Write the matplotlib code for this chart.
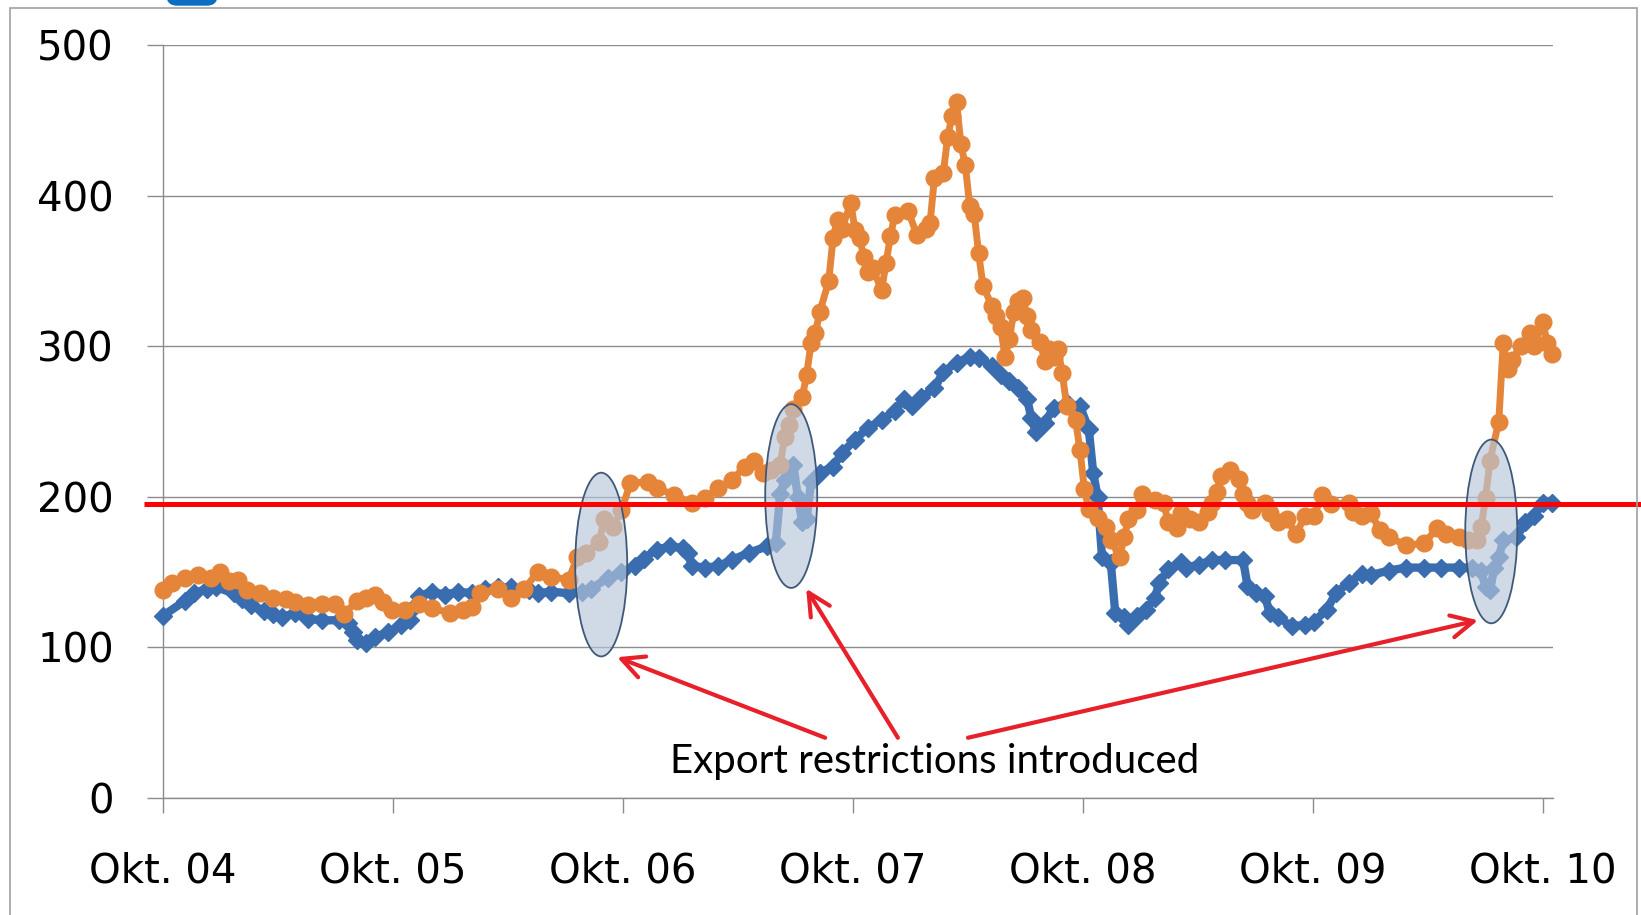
import matplotlib
matplotlib.use('Agg')
import matplotlib.pyplot as plt
from matplotlib.patches import Ellipse, Rectangle, FancyBboxPatch
from matplotlib.transforms import IdentityTransform
import pandas as pd

START = pd.Timestamp('2004-10-01')

# weeks after 1 Oct 2004 and price index, blue series
blue_week = [0, 5, 7, 10, 12, 16, 18, 20, 23, 25, 27, 30, 33, 36, 40, 42, 43, 44, 46, 48,
             51, 54, 56, 57, 58, 61, 64, 67, 70, 73, 76, 79, 83, 85, 88, 92, 95, 97, 101, 104,
             107, 109, 112, 115, 118, 119, 120, 123, 126, 129, 133, 137, 139, 140, 141, 143, 144, 145, 146, 147,
             149, 152, 154, 157, 160, 163, 166, 168, 170, 172, 175, 177, 180, 183, 185, 188, 190, 192, 194, 196,
             197, 198, 200, 202, 205, 208, 210, 211, 212, 213, 215, 216, 218, 219, 221, 223, 225, 226, 228, 231,
             232, 235, 238, 241, 245, 246, 248, 250, 251, 253, 256, 259, 261, 264, 266, 269, 272, 274, 278, 282,
             286, 290, 294, 297, 299, 300, 301, 302, 303, 304, 307, 309, 311, 313, 315]
blue_value = [121, 131, 136, 139, 140, 136, 132, 128, 124, 122, 120, 123, 119, 118, 118, 116, 110, 105, 103, 107,
              110, 115, 118, 127, 134, 137, 135, 137, 136, 139, 140, 140, 138, 136, 137, 136, 137, 139, 146, 150,
              154, 159, 165, 167, 166, 163, 154, 153, 154, 158, 163, 167, 169, 202, 211, 221, 200, 183, 185, 210,
              216, 220, 229, 238, 246, 251, 257, 265, 260, 266, 272, 283, 289, 293, 292, 287, 281, 277, 272, 265,
              252, 243, 249, 259, 262, 260, 245, 216, 200, 160, 156, 123, 120, 115, 121, 125, 133, 143, 152, 157,
              153, 155, 158, 158, 158, 141, 136, 134, 123, 120, 114, 115, 117, 125, 136, 143, 149, 148, 151, 153,
              153, 153, 153, 153, 151, 140, 138, 153, 160, 171, 173, 183, 187, 196, 196]

# orange series
orange_week = [0, 2, 5, 8, 11, 13, 15, 17, 19, 22, 25, 28, 30, 33, 36, 39, 41, 44, 46, 48,
               50, 52, 55, 58, 61, 65, 68, 70, 72, 76, 79, 82, 85, 88, 92, 94, 96, 99, 100, 102,
               104, 106, 110, 112, 116, 120, 123, 126, 129, 132, 134, 136, 138, 140, 141, 142, 143, 145, 146, 147,
               148, 149, 151, 152, 153, 154, 156, 157, 158, 159, 160, 161, 163, 164, 165, 166, 169, 171, 173, 174,
               175, 177, 178, 179, 180, 181, 182, 183, 184, 185, 186, 188, 189, 190, 191, 192, 193, 194, 195, 196,
               197, 199, 200, 201, 202, 203, 204, 205, 207, 208, 209, 210, 212, 214, 215, 217, 218, 219, 221, 222,
               225, 227, 228, 230, 231, 233, 235, 237, 238, 239, 240, 242, 244, 245, 246, 247, 250, 251, 253, 255,
               257, 259, 261, 263, 265, 269, 270, 272, 274, 276, 278, 282, 286, 289, 291, 294, 296, 298, 299, 300,
               301, 303, 304, 305, 306, 308, 310, 311, 313, 314, 315]
orange_value = [138, 143, 146, 148, 146, 150, 144, 145, 138, 136, 133, 132, 130, 128, 129, 129, 122, 131, 133, 135,
                130, 125, 125, 129, 126, 123, 125, 127, 136, 139, 133, 139, 150, 147, 145, 160, 163, 170, 185, 180,
                191, 209, 210, 206, 201, 196, 199, 206, 211, 220, 224, 216, 218, 221, 240, 248, 258, 266, 281, 302,
                309, 323, 343, 372, 384, 378, 395, 377, 372, 359, 349, 352, 337, 355, 373, 387, 390, 374, 378, 382,
                412, 415, 439, 453, 462, 434, 420, 393, 388, 362, 340, 327, 320, 313, 293, 305, 323, 330, 332, 320,
                311, 303, 290, 298, 293, 298, 282, 260, 251, 231, 205, 192, 186, 180, 171, 160, 173, 185, 191, 202,
                198, 196, 183, 179, 189, 185, 183, 190, 196, 203, 214, 218, 212, 202, 196, 191, 196, 189, 183, 185,
                175, 187, 187, 201, 195, 196, 190, 187, 189, 178, 173, 168, 169, 179, 175, 173, 171, 171, 180, 199,
                224, 250, 302, 285, 291, 300, 309, 300, 316, 302, 295]

tick_years = [2004, 2005, 2006, 2007, 2008, 2009, 2010]
tick_labels = ['Okt. 04', 'Okt. 05', 'Okt. 06', 'Okt. 07', 'Okt. 08', 'Okt. 09', 'Okt. 10']
y_ticks = [0, 100, 200, 300, 400, 500]

red_level = 195

# shaded episodes: centre (week, value)
episode_week = [99.4, 142.5, 301.3]
episode_value = [155, 200.5, 177]

note = 'Export restrictions introduced'

BLUE = '#3a6daf'
ORANGE = '#e5853a'
GRID = '#8c8c8c'
ARROW_RED = '#e8202a'

fig = plt.figure(figsize=(16.41, 9.15), dpi=100)
ax = fig.add_axes([163 / 1641, 1 - 798 / 915, (1553 - 163) / 1641, (798 - 45) / 915])

ax.plot(blue_week, blue_value, color=BLUE, lw=6, marker='D', ms=9, mec=BLUE,
        clip_on=False, zorder=3)
ax.plot(orange_week, orange_value, color=ORANGE, lw=5, marker='o', ms=12, mec=ORANGE,
        clip_on=False, zorder=4)

for w, v in zip(episode_week, episode_value):
    ax.add_patch(Ellipse((w, v), width=11.8, height=122, facecolor=(0.72, 0.78, 0.86, 0.65),
                         edgecolor='#3f5878', lw=1.3, zorder=5))

ax.plot([-4.3, 336], [red_level, red_level], color='#ff0000', lw=3.6, clip_on=False,
        solid_capstyle='butt', zorder=6)

ax.text(175, 24, note, ha='center', va='center', fontsize=29, family='Lato', zorder=7)
arrows = [((150.2, 40), (103, 93.5)), ((166.7, 40), (145.9, 139)), ((182.6, 40), (298.3, 118))]
for tail, head in arrows:
    ax.annotate('', xy=head, xytext=tail, zorder=7,
                arrowprops=dict(arrowstyle='->,head_length=0.8,head_width=0.4', color=ARROW_RED,
                                lw=3, shrinkA=0, shrinkB=0, mutation_scale=20))

tick_pos = [(pd.Timestamp(f'{y}-10-01') - START).days / 7 for y in tick_years]
ax.set_xticks(tick_pos)
ax.set_xticklabels(tick_labels)
ax.set_yticks(y_ticks)
ax.set_xlim(0, 315.3)
ax.set_ylim(0, 500)

ax.yaxis.grid(True, color=GRID, lw=1)
ax.set_axisbelow(True)
for side in ['top', 'right']:
    ax.spines[side].set_visible(False)
for side in ['left', 'bottom']:
    ax.spines[side].set_color(GRID)
    ax.spines[side].set_linewidth(1)
ax.tick_params(axis='y', length=11.5, width=1, color=GRID, pad=24, labelsize=29)
ax.tick_params(axis='x', length=10.8, width=1, color=GRID, pad=28, labelsize=29)

# outer frame and the tab peeking in at the top
fig.add_artist(Rectangle((10, -20), 1627, 927, transform=IdentityTransform(), fill=False,
                         edgecolor='#a0a0a0', lw=1.2))
fig.add_artist(FancyBboxPatch((167, 910), 50, 30, boxstyle='round,pad=0,rounding_size=10',
                              transform=IdentityTransform(), color='#0a6cc2'))

fig.savefig('out.png', dpi=100)
